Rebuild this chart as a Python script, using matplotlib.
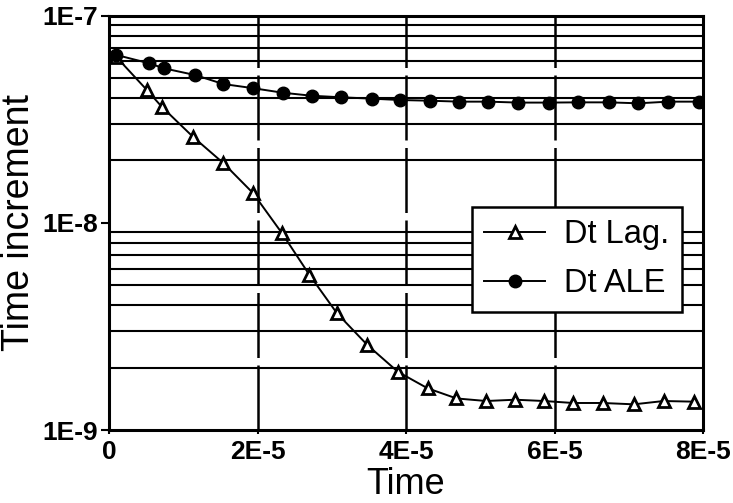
import matplotlib
matplotlib.use("Agg")
import matplotlib.pyplot as plt
from matplotlib.ticker import FixedLocator, NullFormatter

plt.rcParams['font.family'] = ['Liberation Sans', 'DejaVu Sans']

# Data
t_lag = [0.10e-5, 0.51e-5, 0.71e-5, 1.13e-5, 1.54e-5, 1.94e-5, 2.33e-5, 2.70e-5,
         3.07e-5, 3.48e-5, 3.89e-5, 4.29e-5, 4.68e-5, 5.08e-5, 5.47e-5, 5.86e-5,
         6.25e-5, 6.65e-5, 7.07e-5, 7.47e-5, 7.88e-5]
dt_lag = [6.3e-8, 4.37e-8, 3.63e-8, 2.60e-8, 1.94e-8, 1.39e-8, 8.9e-9, 5.6e-9,
          3.66e-9, 2.57e-9, 1.91e-9, 1.59e-9, 1.42e-9, 1.38e-9, 1.40e-9, 1.38e-9,
          1.35e-9, 1.35e-9, 1.33e-9, 1.38e-9, 1.37e-9]

t_ale = [0.10e-5, 0.54e-5, 0.74e-5, 1.16e-5, 1.54e-5, 1.94e-5, 2.34e-5, 2.73e-5,
         3.13e-5, 3.54e-5, 3.92e-5, 4.32e-5, 4.72e-5, 5.11e-5, 5.51e-5, 5.92e-5,
         6.32e-5, 6.73e-5, 7.13e-5, 7.53e-5, 7.94e-5]
dt_ale = [6.45e-8, 5.88e-8, 5.56e-8, 5.16e-8, 4.67e-8, 4.46e-8, 4.24e-8, 4.10e-8,
          4.03e-8, 3.97e-8, 3.91e-8, 3.88e-8, 3.84e-8, 3.84e-8, 3.80e-8, 3.80e-8,
          3.81e-8, 3.81e-8, 3.77e-8, 3.84e-8, 3.84e-8]

x_ticks = [0, 2e-5, 4e-5, 6e-5, 8e-5]
x_ticklabels = ['0', '2E-5', '4E-5', '6E-5', '8E-5']
y_ticks = [1e-9, 1e-8, 1e-7]
y_ticklabels = ['1E-9', '1E-8', '1E-7']
series_labels = ['Dt Lag.', 'Dt ALE']

fig = plt.figure(figsize=(7.33, 5.03), dpi=100)
ax = fig.add_axes([109/733, 1 - 430/503, (703 - 109)/733, (430 - 15.5)/503])

ax.set_yscale('log')
ax.set_xlim(0, 8e-5)
ax.set_ylim(1e-9, 1e-7)

# grid: horizontal at minor decades, vertical dashed at interior x ticks
minors = [m * 10.0**e for e in (-9, -8) for m in range(2, 10)]
for v in minors:
    ax.axhline(v, color='black', lw=1.5, zorder=1)
for xv in x_ticks[1:-1]:
    ax.axvline(xv, color='black', lw=1.8, ls=(0, (26, 3)), zorder=1)

ax.plot(t_lag, dt_lag, color='black', lw=1.4, marker='^', ms=8.5,
        mfc='white', mec='black', mew=2.0, label=series_labels[0], zorder=3)
ax.plot(t_ale, dt_ale, color='black', lw=1.4, marker='o', ms=9,
        mfc='black', mec='black', label=series_labels[1], zorder=3)

ax.xaxis.set_major_locator(FixedLocator(x_ticks))
ax.set_xticklabels(x_ticklabels)
ax.yaxis.set_major_locator(FixedLocator(y_ticks))
ax.set_yticklabels(y_ticklabels)
ax.yaxis.set_minor_locator(FixedLocator([]))
ax.yaxis.set_minor_formatter(NullFormatter())

for lab in ax.get_xticklabels() + ax.get_yticklabels():
    lab.set_fontsize(19)
    lab.set_fontweight('bold')
ax.tick_params(axis='y', direction='out', length=6, width=1.5, pad=2)
ax.tick_params(axis='x', direction='out', length=3, width=1.5, pad=4)

for s in ax.spines.values():
    s.set_linewidth(2.2)

ax.set_xlabel('Time', fontsize=26, labelpad=2)
ax.set_ylabel('Time increment', fontsize=27, labelpad=4)

leg = ax.legend(loc='upper left',
                bbox_to_anchor=((472 - 109)/594, (430 - 207)/414.5),
                fontsize=23.5, frameon=True, fancybox=False, framealpha=1,
                edgecolor='black', handlelength=1.85, handletextpad=0.6,
                borderpad=0.38, labelspacing=0.55, borderaxespad=0)
leg.get_frame().set_linewidth(1.8)
leg.set_zorder(5)

fig.savefig('out.png', dpi=100)
